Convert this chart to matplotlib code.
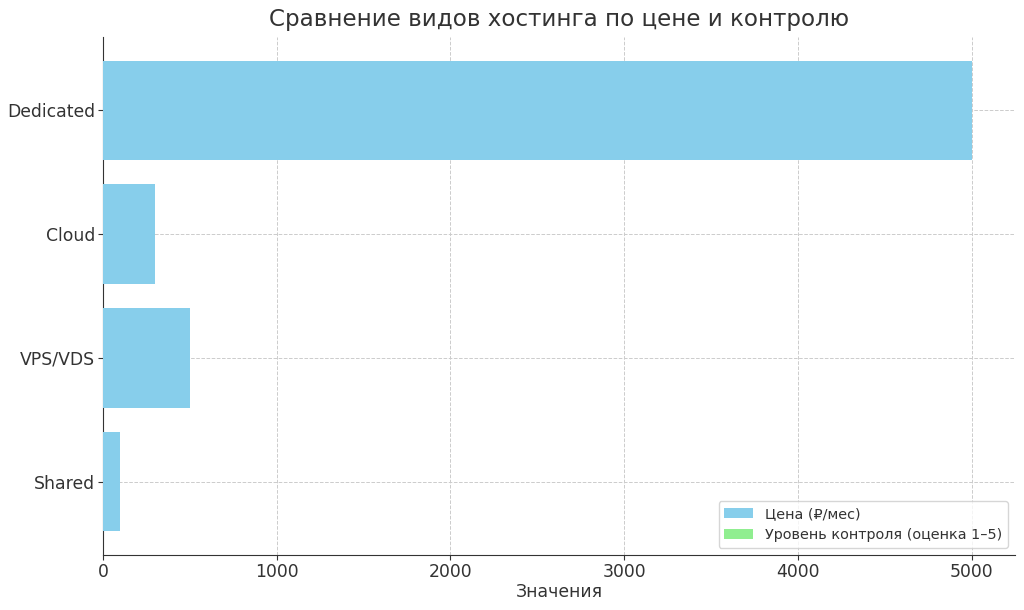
import matplotlib
matplotlib.use("Agg")
import matplotlib.pyplot as plt
import numpy as np

categories = ["Shared", "VPS/VDS", "Cloud", "Dedicated"]
price = [100, 500, 300, 5000]
control = [1, 3, 4, 5]

plt.rcParams['font.family'] = ['DejaVu Sans']

fig = plt.figure(figsize=(10.24, 6.10), dpi=100)
ax = fig.add_axes([103/1024, 1-555/610, (1015-103)/1024, (555-37)/610])

y = np.arange(len(categories))
ax.barh(y, control, color="#90EE90", label="Уровень контроля (оценка 1–5)", height=0.8, zorder=2)
ax.barh(y, price, color="#87CEEB", label="Цена (₽/мес)", height=0.8, zorder=3)

ax.set_yticks(y)
ax.set_yticklabels(categories, fontsize=12.4)
ax.tick_params(axis='x', labelsize=12.4, pad=2)
ax.tick_params(axis='y', pad=2)
ax.set_xticks([0, 1000, 2000, 3000, 4000, 5000])
ax.set_xlabel("Значения", fontsize=12.4, color="#333333", labelpad=2)
ax.set_title("Сравнение видов хостинга по цене и контролю", fontsize=16.6, color="#333333", pad=8)
ax.grid(True, linestyle="--", color="#cccccc", linewidth=0.7, zorder=0)
ax.set_axisbelow(True)
for s in ["top", "right"]:
    ax.spines[s].set_visible(False)
for s in ["left", "bottom"]:
    ax.spines[s].set_color("#333333")
ax.tick_params(colors="#333333")

handles, labels = ax.get_legend_handles_labels()
leg = ax.legend(handles[::-1], labels[::-1], loc="lower right", fontsize=10.4)
for t in leg.get_texts():
    t.set_color("#333333")

fig.savefig("out.png", dpi=100)
